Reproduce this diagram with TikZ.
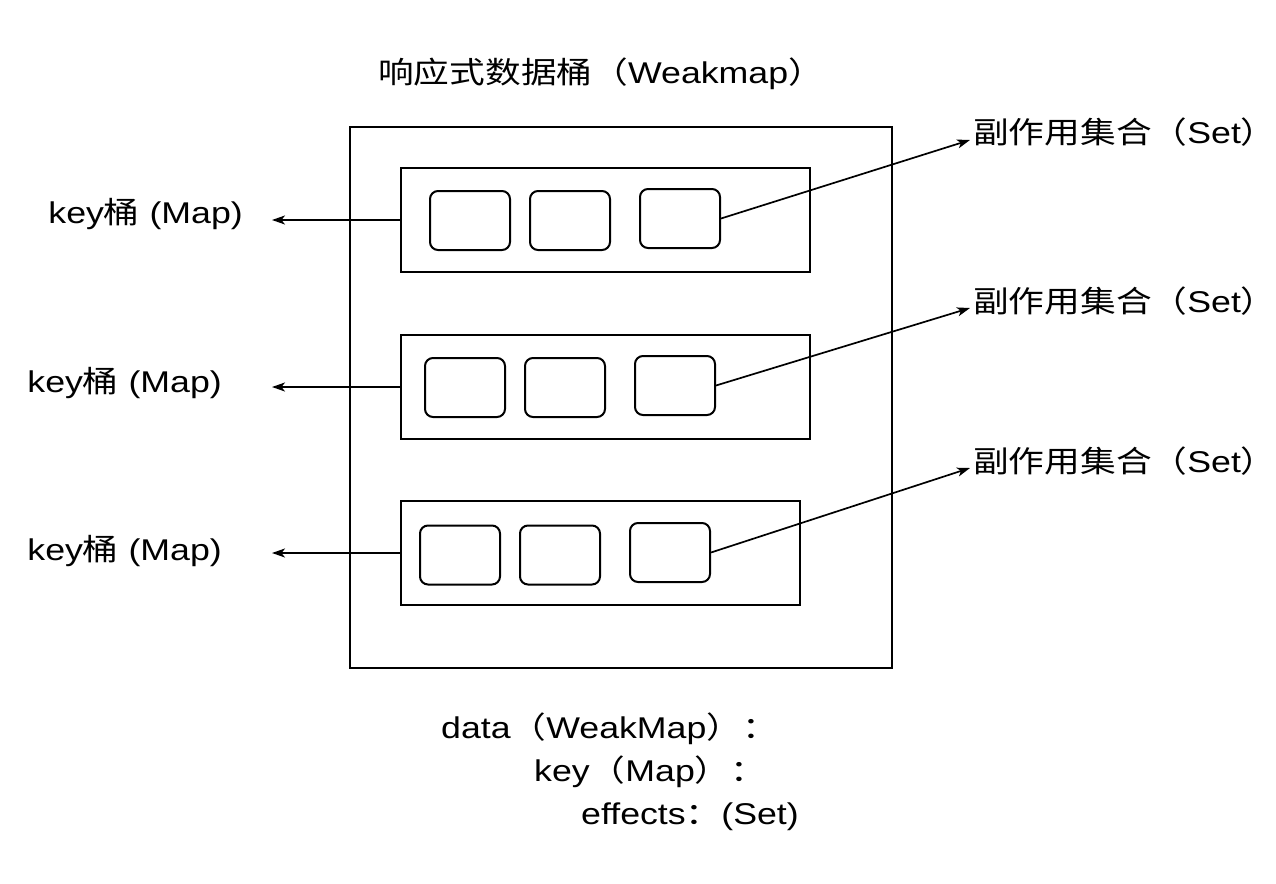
\documentclass[tikz,border=0pt]{standalone}
\usepackage{fontspec}
\setmainfont[FakeStretch=1.19]{Liberation Sans}
\newfontfamily\cjk[FakeStretch=1.19]{Noto Sans CJK SC}
\usetikzlibrary{arrows.meta}
\begin{document}
\begin{tikzpicture}[x=1pt,y=-1pt,
  box/.style={draw,line width=2pt,inner sep=0pt},
  cell/.style={draw,line width=2pt,rounded corners=8pt,minimum width=80pt,minimum height=59pt,inner sep=0pt},
  lbl/.style={inner sep=0pt,font=\fontsize{30}{36}\selectfont},
  conn/.style={line width=1.7pt,-{Stealth[length=13pt,width=9pt,inset=3.5pt]}}]
\useasboundingbox (0,0) rectangle (1276,883);
% outer box
\node[box,minimum width=542pt,minimum height=541pt] (outer) at (621,397.5) {};
% map boxes
\node[box,minimum width=409pt,minimum height=104pt] (m1) at (605.5,220) {};
\node[box,minimum width=409pt,minimum height=104pt] (m2) at (605.5,387) {};
\node[box,minimum width=399pt,minimum height=104pt] (m3) at (600.5,553) {};
% cells
\node[cell] (a1) at (470,220.5) {};
\node[cell] (b1) at (570,220.5) {};
\node[cell] (c1) at (680,218.5) {};
\node[cell] (a2) at (465,387.5) {};
\node[cell] (b2) at (565,387.5) {};
\node[cell] (c2) at (675,385.5) {};
\node[cell] (a3) at (460,555) {};
\node[cell] (b3) at (560,555) {};
\node[cell] (c3) at (670,552.5) {};
% title
\node[lbl,anchor=base west] (title) at (378,83) {{\cjk 响应式数据桶（}Weakmap{\cjk ）}};
% key labels
\node[lbl,anchor=base east] (k1) at (243,223) {key{\cjk 桶} (Map)};
\node[lbl,anchor=base east] (k2) at (222,392) {key{\cjk 桶} (Map)};
\node[lbl,anchor=base east] (k3) at (222,560) {key{\cjk 桶} (Map)};
\coordinate (k1e) at (272,220);
\coordinate (k2e) at (272,387);
\coordinate (k3e) at (272,553);
% set labels
\node[lbl,anchor=base west] (s1) at (973,143) {{\cjk 副作用集合（}Set{\cjk ）}};
\node[lbl,anchor=base west] (s2) at (973,312) {{\cjk 副作用集合（}Set{\cjk ）}};
\node[lbl,anchor=base west] (s3) at (973,472) {{\cjk 副作用集合（}Set{\cjk ）}};
\coordinate (s1e) at (970,140);
\coordinate (s2e) at (970,308);
\coordinate (s3e) at (970,468);
% connectors
\draw[conn] (m1.west) -- (k1e);
\draw[conn] (m2.west) -- (k2e);
\draw[conn] (m3.west) -- (k3e);
\draw[conn] (c1.east) -- (s1e);
\draw[conn] (c2.east) -- (s2e);
\draw[conn] (c3.east) -- (s3e);
% bottom text
\node[lbl,anchor=base west] (d1) at (441,738) {data{\cjk （}WeakMap{\cjk ）：}};
\node[lbl,anchor=base west] (d2) at (534,781) {key{\cjk （}Map{\cjk ）：}};
\node[lbl,anchor=base west] (d3) at (581,824) {effects{\cjk ：}(Set)};
\end{tikzpicture}
\end{document}
